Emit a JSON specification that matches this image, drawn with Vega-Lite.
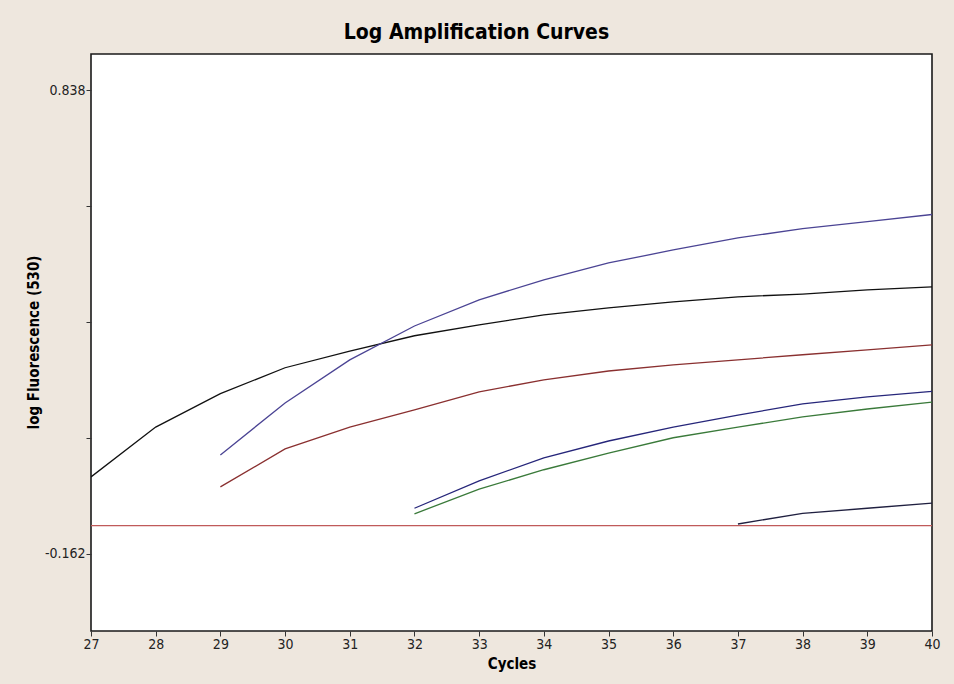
{
  "$schema": "https://vega.github.io/schema/vega-lite/v6.json",
  "autosize": "none",
  "width": 841,
  "height": 577,
  "padding": {"left": 91, "top": 54, "right": 22, "bottom": 53},
  "background": "#eee7de",
  "title": {
    "text": "Log Amplification Curves",
    "font": "DejaVu Sans Condensed, Liberation Sans, sans-serif",
    "fontWeight": "bold",
    "fontSize": 21,
    "color": "#000000",
    "anchor": "middle",
    "dx": -35,
    "offset": 11
  },
  "config": {
    "view": {"fill": "#ffffff", "stroke": "#1a1a1a", "strokeWidth": 1.6},
    "axis": {
      "domain": false,
      "grid": false,
      "tickColor": "#333333",
      "tickSize": 5,
      "labelFont": "DejaVu Sans Condensed, Liberation Sans, sans-serif",
      "labelFontSize": 14,
      "labelColor": "#222222",
      "labelFlush": false,
      "titleFont": "DejaVu Sans Condensed, Liberation Sans, sans-serif",
      "titleFontWeight": "bold",
      "titleFontSize": 15,
      "titleColor": "#000000"
    }
  },
  "data": {
    "values": [
      {"series": "A", "cycle": 27, "value": 0.0035},
      {"series": "A", "cycle": 28, "value": 0.111},
      {"series": "A", "cycle": 29, "value": 0.183},
      {"series": "A", "cycle": 30, "value": 0.239},
      {"series": "A", "cycle": 31, "value": 0.275},
      {"series": "A", "cycle": 32, "value": 0.308},
      {"series": "A", "cycle": 33, "value": 0.3315},
      {"series": "A", "cycle": 34, "value": 0.353},
      {"series": "A", "cycle": 35, "value": 0.368},
      {"series": "A", "cycle": 36, "value": 0.381},
      {"series": "A", "cycle": 37, "value": 0.392},
      {"series": "A", "cycle": 38, "value": 0.398},
      {"series": "A", "cycle": 39, "value": 0.407},
      {"series": "A", "cycle": 40, "value": 0.4135},
      {"series": "B", "cycle": 29, "value": 0.051},
      {"series": "B", "cycle": 30, "value": 0.163},
      {"series": "B", "cycle": 31, "value": 0.256},
      {"series": "B", "cycle": 32, "value": 0.329},
      {"series": "B", "cycle": 33, "value": 0.3855},
      {"series": "B", "cycle": 34, "value": 0.4286},
      {"series": "B", "cycle": 35, "value": 0.465},
      {"series": "B", "cycle": 36, "value": 0.493},
      {"series": "B", "cycle": 37, "value": 0.519},
      {"series": "B", "cycle": 38, "value": 0.539},
      {"series": "B", "cycle": 39, "value": 0.554},
      {"series": "B", "cycle": 40, "value": 0.5695},
      {"series": "C", "cycle": 29, "value": -0.018},
      {"series": "C", "cycle": 30, "value": 0.064},
      {"series": "C", "cycle": 31, "value": 0.111},
      {"series": "C", "cycle": 32, "value": 0.148},
      {"series": "C", "cycle": 33, "value": 0.187},
      {"series": "C", "cycle": 34, "value": 0.213},
      {"series": "C", "cycle": 35, "value": 0.232},
      {"series": "C", "cycle": 36, "value": 0.245},
      {"series": "C", "cycle": 37, "value": 0.256},
      {"series": "C", "cycle": 38, "value": 0.267},
      {"series": "C", "cycle": 39, "value": 0.2776},
      {"series": "C", "cycle": 40, "value": 0.2884},
      {"series": "D", "cycle": 32, "value": -0.064},
      {"series": "D", "cycle": 33, "value": -0.005},
      {"series": "D", "cycle": 34, "value": 0.0445},
      {"series": "D", "cycle": 35, "value": 0.081},
      {"series": "D", "cycle": 36, "value": 0.111},
      {"series": "D", "cycle": 37, "value": 0.137},
      {"series": "D", "cycle": 38, "value": 0.161},
      {"series": "D", "cycle": 39, "value": 0.176},
      {"series": "D", "cycle": 40, "value": 0.188},
      {"series": "E", "cycle": 32, "value": -0.076},
      {"series": "E", "cycle": 33, "value": -0.023},
      {"series": "E", "cycle": 34, "value": 0.019},
      {"series": "E", "cycle": 35, "value": 0.055},
      {"series": "E", "cycle": 36, "value": 0.088},
      {"series": "E", "cycle": 37, "value": 0.111},
      {"series": "E", "cycle": 38, "value": 0.133},
      {"series": "E", "cycle": 39, "value": 0.150},
      {"series": "E", "cycle": 40, "value": 0.165},
      {"series": "F", "cycle": 37, "value": -0.098},
      {"series": "F", "cycle": 38, "value": -0.075},
      {"series": "F", "cycle": 39, "value": -0.064},
      {"series": "F", "cycle": 40, "value": -0.053},
      {"series": "Threshold", "cycle": 27, "value": -0.1016},
      {"series": "Threshold", "cycle": 40, "value": -0.1016}
    ]
  },
  "mark": {"type": "line", "strokeWidth": 1.3, "clip": true},
  "encoding": {
    "x": {
      "field": "cycle",
      "type": "quantitative",
      "scale": {"domain": [27, 40], "nice": false, "zero": false},
      "axis": {
        "title": "Cycles",
        "values": [27, 28, 29, 30, 31, 32, 33, 34, 35, 36, 37, 38, 39, 40],
        "format": "d",
        "labelPadding": 1,
        "titleY": 32,
        "titleBaseline": "middle"
      }
    },
    "y": {
      "field": "value",
      "type": "quantitative",
      "scale": {"domain": [-0.3288, 0.9157], "nice": false, "zero": false},
      "axis": {
        "title": "log Fluorescence (530)",
        "values": [-0.162, 0.088, 0.338, 0.588, 0.838],
        "labelExpr": "datum.value > 0.8 ? '0.838' : (datum.value < -0.1 ? '-0.162' : '')",
        "labelPadding": 1,
        "titleX": -58,
        "titleY": 288,
        "titleAngle": 270,
        "titleAlign": "center",
        "titleBaseline": "middle"
      }
    },
    "color": {
      "field": "series",
      "type": "nominal",
      "scale": {
        "domain": ["A", "B", "C", "D", "E", "F", "Threshold"],
        "range": ["#111111", "#4b4494", "#8a3030", "#26267a", "#3a7a3a", "#202040", "#c05a5a"]
      },
      "legend": null
    },
    "order": {"field": "cycle", "type": "quantitative"}
  }
}
